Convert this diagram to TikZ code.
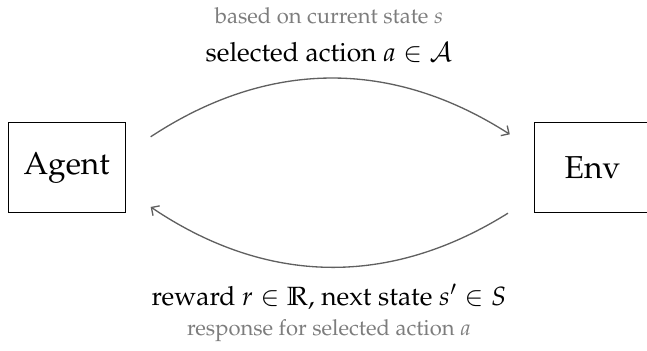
\documentclass[tikz,border=0pt]{standalone}
\usepackage[T1]{fontenc}
\usepackage{mathpazo}
\usepackage{amssymb}
\definecolor{main}{RGB}{96,96,96}
\definecolor{second}{RGB}{125,125,125}
\usetikzlibrary{
	arrows.meta,
	positioning,
	calc
}
\tikzset{
  % arrow
	cstwra/.style      ={-Straight Barb},  % wide ra
  % curve
	cstcurve/.style    ={semithick, main},
  % node
	cstnode/.style     ={fill=white,draw=black,text=black,minimum width=1.87cm,minimum height=1.43cm,font=\Large},
	cstlabel/.style    ={text=black,font=\large,anchor=base},
	cstnote/.style     ={text=second,font=\normalsize,anchor=base}
}
\begin{document}
\begin{tikzpicture}
				\useasboundingbox (-5.254,-2.915) rectangle (5.079,2.675);
				\node[cstnode] (agent) at (-4.19,0) {Agent};
				\node[cstnode] (env) at (4.21,0) {Env};
				\coordinate (A1) at ($(agent.east)+(.4,.49)$);
				\coordinate (E1) at ($(env.west)+(-.38,.53)$);
				\coordinate (E2) at ($(env.west)+(-.41,-.73)$);
				\coordinate (A2) at ($(agent.east)+(.4,-.63)$);
				\draw[cstcurve,cstwra] (A1) to[bend left=33] (E1);
				\draw[cstcurve,cstwra] (E2) to[bend left=33] (A2);
				\node[cstnote] (basis) at (0,2.30) {based on current state $s$};
				\node[cstlabel] (action) at (0,1.685) {selected action $a\in\mathcal{A}$};
				\node[cstlabel] (reward) at (0,-2.196) {reward $r\in\mathbb{R}$, next state $s'\in S$};
				\node[cstnote] (response) at (0,-2.675) {response for selected action $a$};
			\end{tikzpicture}
\end{document}
